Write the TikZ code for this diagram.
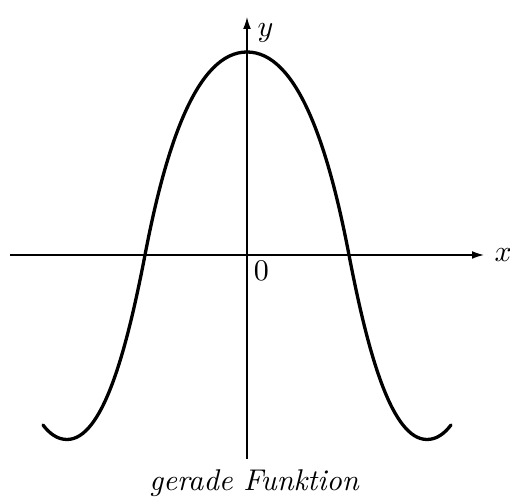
\documentclass[tikz,border=0pt]{standalone}
\usetikzlibrary{arrows.meta}
\tikzset{axis/.style={line width=.45pt,-{Latex[length=4pt,width=2.6pt]}},
 graph/.style={line width=1.1pt,line cap=round}}
\begin{document}
\begin{tikzpicture}[x=16.67pt,y=16.67pt]
\useasboundingbox (-4.94,-4.86) rectangle (5.26,5.10);
\coordinate (xl) at (-4.74,0);\coordinate (xr) at (4.74,0);
\coordinate (yb) at (0,-4.08);\coordinate (yt) at (0,4.76);
\draw[axis] (xl)--(xr);
\draw[axis] (yb)--(yt);
\node[anchor=west] (xlab) at (xr) {$x$};
\node[anchor=west] (ylab) at (0,4.45) {$y$};
\node (zero) at (0.29,-0.31) {$0$};
% gerade Funktion: beide Haelften gespiegelt
\foreach \s in {1,-1}{
\draw[graph,xscale=\s] (0,4.06) .. controls (-1.0,4.06) and (-1.62,2.2) .. (-2.04,0)
 .. controls (-2.425,-2.0) and (-2.90,-3.69) .. (-3.60,-3.69)
 .. controls (-3.80,-3.69) and (-3.96,-3.56) .. (-4.08,-3.40);}
\node[anchor=base] (cap) at (0.15,-4.72) {\textit{gerade Funktion}};
\end{tikzpicture}
\end{document}
